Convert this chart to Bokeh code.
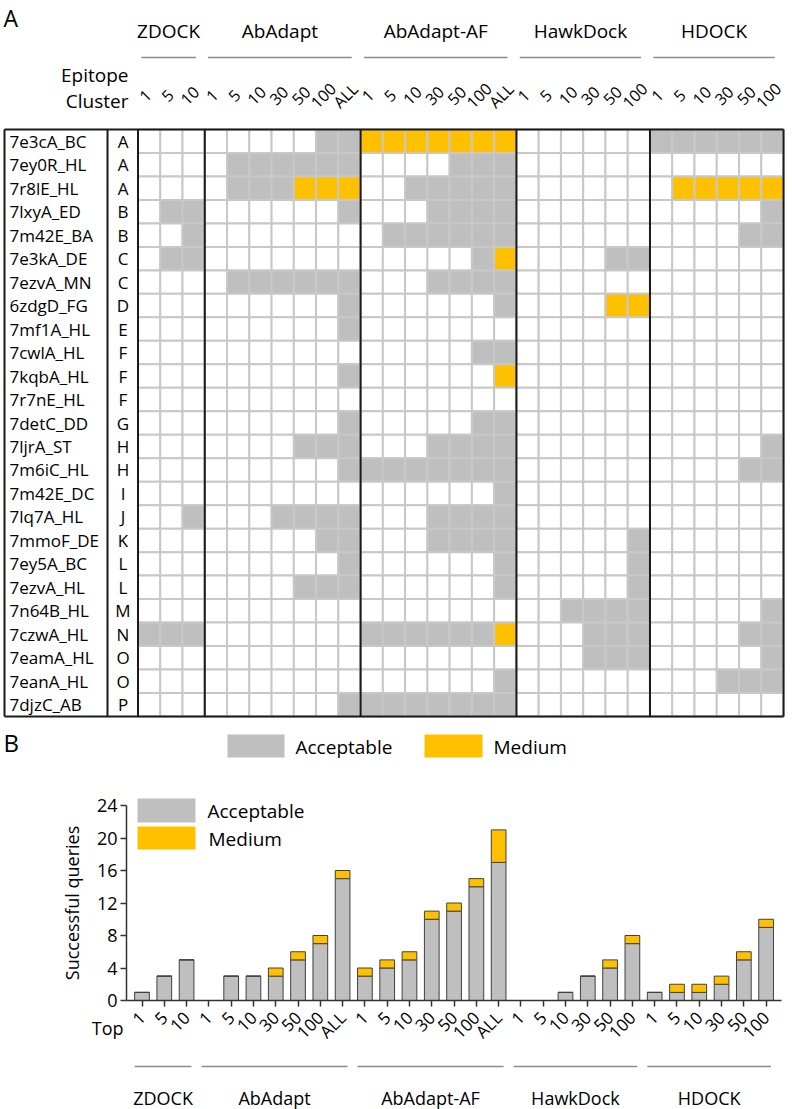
import math
from bokeh.plotting import figure
from bokeh.models import ColumnDataSource, Range1d, FixedTicker, LinearAxis
from bokeh.layouts import column
from bokeh.embed import file_html
from bokeh.resources import INLINE
from bokeh.core.properties import value

# ---------------- data ----------------
methods = ["ZDOCK", "AbAdapt", "AbAdapt-AF", "HawkDock", "HDOCK"]
zdock_tops = ["1", "5", "10"]
abadapt_tops = ["1", "5", "10", "30", "50", "100", "ALL"]
abadapt_af_tops = ["1", "5", "10", "30", "50", "100", "ALL"]
hawkdock_tops = ["1", "5", "10", "30", "50", "100"]
hdock_tops = ["1", "5", "10", "30", "50", "100"]

targets = ["7e3cA_BC", "7ey0R_HL", "7r8lE_HL", "7lxyA_ED", "7m42E_BA", "7e3kA_DE",
           "7ezvA_MN", "6zdgD_FG", "7mf1A_HL", "7cwlA_HL", "7kqbA_HL", "7r7nE_HL",
           "7detC_DD", "7ljrA_ST", "7m6iC_HL", "7m42E_DC", "7lq7A_HL", "7mmoF_DE",
           "7ey5A_BC", "7ezvA_HL", "7n64B_HL", "7czwA_HL", "7eamA_HL", "7eanA_HL",
           "7djzC_AB"]
clusters = ["A", "A", "A", "B", "B", "C", "C", "D", "E", "F", "F", "F", "G", "H", "H",
            "I", "J", "K", "L", "L", "M", "N", "O", "O", "P"]

# per target: ZDOCK | AbAdapt | AbAdapt-AF | HawkDock | HDOCK  ('.' none, 'a' acceptable, 'm' medium)
status_rows = [
    "... .....aa mmmmmmm ...... aaaaaa",
    "... .aaaaaa ....aaa ...... ......",
    "... .aaammm ..aaaaa ...... .mmmmm",
    ".aa ......a ...aaaa ...... .....a",
    "..a ....... .aaaaaa ...... ....aa",
    ".aa ....... .....am ....aa ......",
    "... .aaaaaa ...aaaa ...... ......",
    "... ......a ......a ....mm ......",
    "... ......a ....... ...... ......",
    "... ....... .....aa ...... ......",
    "... ......a ......m ...... ......",
    "... ....... ....... ...... ......",
    "... ......a .....aa ...... ......",
    "... ....aaa ...aaaa ...... .....a",
    "... ......a aaaaaaa ...... ....aa",
    "... ....... ......a ...... ......",
    "..a ...aaaa ...aaaa ...... ......",
    "... .....aa ...aaaa .....a ......",
    "... ......a ......a .....a ......",
    "... ....aaa ......a .....a ......",
    "... ....... ....... ..aaaa .....a",
    "aaa ....... aaaaaam ...aaa ....aa",
    "... ....... ....... ...aaa .....a",
    "... ....... ......a ...... ...aaa",
    "... ......a aaaaaaa ...... ......",
]

# panel B: successful queries
acceptable = [1, 3, 5,
              0, 3, 3, 3, 5, 7, 15,
              3, 4, 5, 10, 11, 14, 17,
              0, 0, 1, 3, 4, 7,
              1, 1, 1, 2, 5, 9]
medium = [0, 0, 0,
          0, 0, 0, 1, 1, 1, 1,
          1, 1, 1, 1, 1, 1, 4,
          0, 0, 0, 0, 1, 1,
          0, 1, 1, 1, 1, 1]

# ---------------- style ----------------
GRAY = "#bfbfbf"
ORANGE = "#ffc000"
GRID = "#c8c8c8"
BLACK = "#1a1a1a"
ULINE = "#8c8c8c"
FONT = value("Open Sans")

group_tops = [zdock_tops, abadapt_tops, abadapt_af_tops, hawkdock_tops, hdock_tops]
all_tops = [t for g in group_tops for t in g]
ncol = len(all_tops)
nrow = len(targets)
spans = []
s = 0
for g in group_tops:
    spans.append((s, s + len(g) - 1))
    s += len(g)

W = 792
HA = 778
HB = 331

# ---------------- panel A ----------------
GX0, CW, GY0, RH = 137.5, 22.26, 129.0, 23.48


def ax(px):
    return (px - GX0) / CW


def ay(py):
    return (py - GY0) / RH


pA = figure(width=W, height=HA, x_range=Range1d(ax(0), ax(W)),
            y_range=Range1d(ay(HA), ay(0)), output_backend="svg",
            toolbar_location=None, x_axis_location=None, y_axis_location=None,
            min_border=0, outline_line_color=None, title=None)
pA.xgrid.visible = False
pA.ygrid.visible = False

cmap = {".": "white", "a": GRAY, "m": ORANGE}
cx, cy, cf = [], [], []
for r, row in enumerate(status_rows):
    for c, ch in enumerate(row.replace(" ", "")):
        cx.append(c + 0.5)
        cy.append(r + 0.5)
        cf.append(cmap[ch])
pA.rect(x="x", y="y", width=1, height=1, source=ColumnDataSource(dict(x=cx, y=cy, f=cf)),
        fill_color="f", line_color=GRID, line_width=2)

# black frame lines
left = ax(4)
pA.segment(x0=[left, left], y0=[0, nrow], x1=[ncol, ncol], y1=[0, nrow],
           line_color=BLACK, line_width=2)
vx = [left, ax(107), 0] + [sp[1] + 1 for sp in spans]
pA.segment(x0=vx, y0=[0] * len(vx), x1=vx, y1=[nrow] * len(vx),
           line_color=BLACK, line_width=2)

# row labels
ry = [r + 0.5 for r in range(nrow)]
pA.text(x=[ax(9)] * nrow, y=ry, text=targets, text_align="left", text_baseline="middle",
        text_font=FONT, text_font_size="17px", text_color="black")
pA.text(x=[ax(122.5)] * nrow, y=ry, text=clusters, text_align="center", text_baseline="middle",
        text_font=FONT, text_font_size="17px", text_color="black")

# column headers
pA.text(x=[c + 0.5 - 4 / CW for c in range(ncol)], y=[ay(95)] * ncol, text=all_tops,
        angle=math.pi / 4, text_align="center", text_baseline="middle",
        text_font=FONT, text_font_size="16px", text_color="black")
pA.text(x=[ax(128)] * 2, y=[ay(74), ay(100)], text=["Epitope", "Cluster"],
        text_align="right", text_baseline="middle", text_font=FONT,
        text_font_size="19px", text_color="black")
ul0 = [sp[0] + 0.15 for sp in spans]
ul1 = [sp[1] + 0.6 for sp in spans]
pA.segment(x0=ul0, y0=[ay(57)] * 5, x1=ul1, y1=[ay(57)] * 5, line_color=ULINE, line_width=1.5)
pA.text(x=[(a + b) / 2 for a, b in zip(ul0, ul1)], y=[ay(30)] * 5, text=methods,
        text_align="center", text_baseline="middle", text_font=FONT,
        text_font_size="19px", text_color="black")

# panel letters
pA.text(x=[ax(3)], y=[ay(17)], text=["A"], text_align="left", text_baseline="middle",
        text_font=FONT, text_font_size="23px", text_color="black")
pA.text(x=[ax(3)], y=[ay(742)], text=["B"], text_align="left", text_baseline="middle",
        text_font=FONT, text_font_size="24px", text_color="black")

# legend A
pA.quad(left=[ax(227), ax(424)], right=[ax(284), ax(482)], top=[ay(734)] * 2,
        bottom=[ay(757)] * 2, fill_color=[GRAY, ORANGE], line_color=None)
pA.text(x=[ax(295), ax(493)], y=[ay(746)] * 2, text=["Acceptable", "Medium"],
        text_align="left", text_baseline="middle", text_font=FONT,
        text_font_size="19px", text_color="black")

# ---------------- panel B ----------------
BX0, BW, BY0, BU = 141.5, 22.29, 1000.0 - HA, 8.125


def bx(px):
    return (px - BX0) / BW


def by(py):  # py in page pixels
    return (BY0 - (py - HA)) / BU


pB = figure(width=W, height=HB, x_range=Range1d(bx(0), bx(W)),
            y_range=Range1d(by(HA + HB), by(HA)), output_backend="svg",
            toolbar_location=None, x_axis_location=None, y_axis_location=None,
            min_border=0, outline_line_color=None, title=None)
pB.xgrid.visible = False
pB.ygrid.visible = False

ya = LinearAxis(fixed_location=bx(126))
ya.ticker = FixedTicker(ticks=[0, 4, 8, 12, 16, 20, 24])
ya.bounds = (0, 24)
ya.minor_tick_line_color = None
ya.major_tick_in = 0
ya.major_tick_out = 6
ya.major_tick_line_width = 1.5
ya.major_tick_line_color = "#333333"
ya.axis_line_width = 1.5
ya.axis_line_color = "#333333"
ya.major_label_text_font = "Open Sans"
ya.major_label_text_font_size = "18px"
ya.major_label_text_color = "black"
ya.major_label_standoff = 3
ya.axis_label = "Successful queries"
ya.axis_label_text_font = "Open Sans"
ya.axis_label_text_font_size = "18px"
ya.axis_label_text_font_style = "normal"
ya.axis_label_text_color = "black"
ya.axis_label_standoff = 10
pB.add_layout(ya, "left")

idx = list(range(ncol))
xa = LinearAxis(fixed_location=0)
xa.ticker = FixedTicker(ticks=idx)
xa.major_label_overrides = {i: t for i, t in zip(idx, all_tops)}
xa.bounds = (bx(126), bx(781))
xa.minor_tick_line_color = None
xa.major_tick_in = 0
xa.major_tick_out = 6
xa.major_tick_line_width = 1.5
xa.major_tick_line_color = "#333333"
xa.axis_line_width = 1.5
xa.axis_line_color = "#333333"
xa.major_label_orientation = math.pi / 4
xa.major_label_text_font = "Open Sans"
xa.major_label_text_font_size = "17px"
xa.major_label_text_color = "black"
xa.major_label_standoff = 8
pB.add_layout(xa, "below")

src = ColumnDataSource(dict(x=idx, acc=acceptable, med=medium))
pB.vbar_stack(["acc", "med"], x="x", width=0.66, source=src,
              fill_color=[GRAY, ORANGE], line_color="#404040", line_width=1)

pB.text(x=[bx(123)], y=[by(1027)], text=["Top"], text_align="right",
        text_baseline="middle", text_font=FONT, text_font_size="18px", text_color="black")

bl0 = [sp[0] - 0.33 for sp in spans]
bl1 = [sp[1] + 0.22 for sp in spans]
pB.segment(x0=bl0, y0=[by(1066)] * 5, x1=bl1, y1=[by(1066)] * 5, line_color=ULINE,
           line_width=1.5)
pB.text(x=[(a + b) / 2 for a, b in zip(bl0, bl1)], y=[by(1097)] * 5, text=methods,
        text_align="center", text_baseline="middle", text_font=FONT,
        text_font_size="18px", text_color="black")

# legend B
pB.quad(left=[bx(137)] * 2, right=[bx(195)] * 2, top=[by(798), by(826)],
        bottom=[by(822), by(849)], fill_color=[GRAY, ORANGE], line_color=None)
pB.text(x=[bx(207), bx(208)], y=[by(810), by(838)], text=["Acceptable", "Medium"],
        text_align="left", text_baseline="middle", text_font=FONT,
        text_font_size="19px", text_color="black")

layout = column(pA, pB)
open("out.html", "w").write(file_html(layout, INLINE))
